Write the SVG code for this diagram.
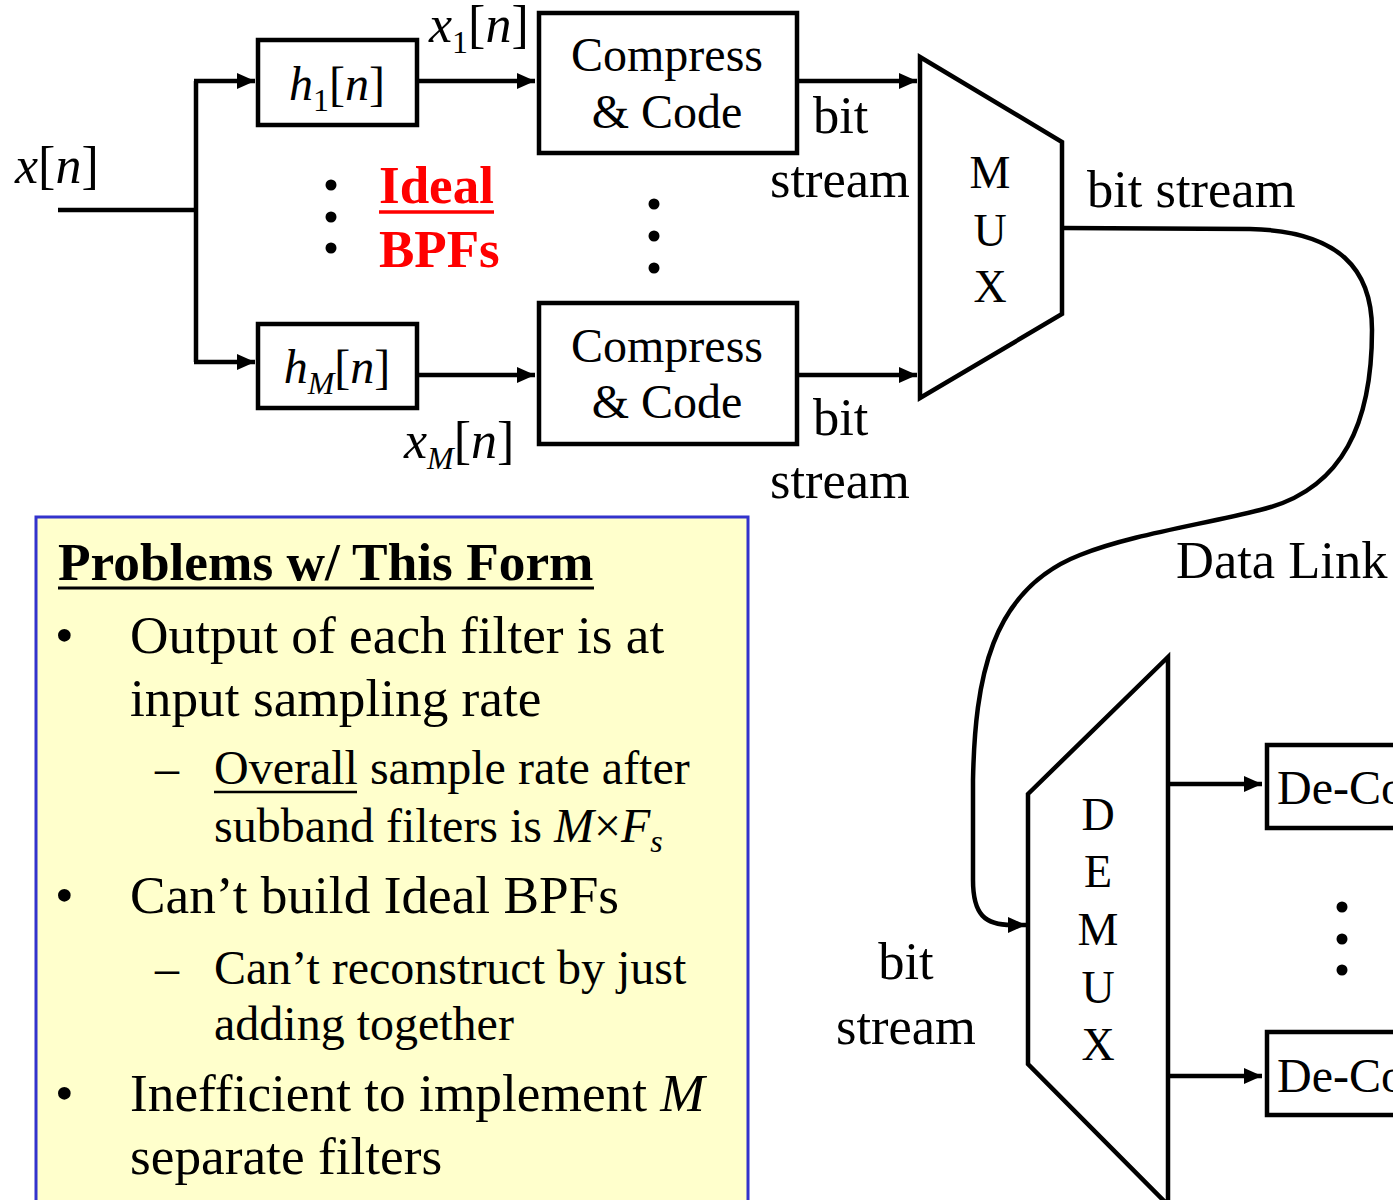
<svg xmlns="http://www.w3.org/2000/svg" width="1393" height="1200" viewBox="0 0 1393 1200">
<style>
text{font-family:"Liberation Serif","Times New Roman",serif;fill:#000}
.i{font-style:italic}
.box{fill:none;stroke:#000;stroke-width:4.5}
.ln{fill:none;stroke:#000;stroke-width:4.5}
.lbl{font-size:52.5px}
.cc{font-size:48px;text-anchor:middle}
.mx{font-size:46px;text-anchor:middle}
.sym{font-size:48px}
.xs{font-size:52px}
.sub{font-size:32px}
.body{font-size:53.3px}
.sb{font-size:48px}
</style>
<defs>
<marker id="ah" markerUnits="userSpaceOnUse" markerWidth="20" markerHeight="18" refX="18" refY="8" orient="auto">
<path d="M0,0 L18,8 L0,16 Z" fill="#000"/>
</marker>
</defs>
<rect width="1393" height="1200" fill="#fff"/>

<g id="connectors">
<path class="ln" d="M58,210 L196,210"/>
<path class="ln" d="M196,81 L196,362"/>
<path class="ln" d="M194,81 L255,81" marker-end="url(#ah)"/>
<path class="ln" d="M194,362 L255,362" marker-end="url(#ah)"/>
<path class="ln" d="M418,81 L535,81" marker-end="url(#ah)"/>
<path class="ln" d="M418,375 L535,375" marker-end="url(#ah)"/>
<path class="ln" d="M798,81 L917,81" marker-end="url(#ah)"/>
<path class="ln" d="M798,375 L917,375" marker-end="url(#ah)"/>
<path class="ln" d="M1062,228 L1250,229 C1340,231 1372,270 1372,330 C1372,420 1345,490 1260,510 C1200,525 1130,535 1080,555 C990,590 975,680 973,780 L973,880 C973,915 985,925 1012,925 L1026,925" marker-end="url(#ah)"/>
<path class="ln" d="M1168,784 L1262,784" marker-end="url(#ah)"/>
<path class="ln" d="M1168,1076 L1262,1076" marker-end="url(#ah)"/>
</g>

<g id="input-label">
<text class="xs" x="15" y="183"><tspan class="i">x</tspan>[<tspan class="i">n</tspan>]</text>
</g>

<g id="h1">
<rect class="box" x="258" y="40" width="159" height="85"/>
<text class="sym" x="337" y="100" text-anchor="middle"><tspan class="i">h</tspan><tspan class="sub" dy="11">1</tspan><tspan dy="-11">[</tspan><tspan class="i">n</tspan>]</text>
</g>

<g id="hM">
<rect class="box" x="258" y="324" width="159" height="84"/>
<text class="sym" x="337" y="383" text-anchor="middle"><tspan class="i">h</tspan><tspan class="sub i" dy="11">M</tspan><tspan dy="-11">[</tspan><tspan class="i">n</tspan>]</text>
</g>

<g id="x1-label">
<text class="xs" x="429" y="42"><tspan class="i">x</tspan><tspan class="sub" dy="11">1</tspan><tspan dy="-11">[</tspan><tspan class="i">n</tspan>]</text>
</g>
<g id="xM-label">
<text class="xs" x="404" y="458"><tspan class="i">x</tspan><tspan class="sub i" dy="11">M</tspan><tspan dy="-11">[</tspan><tspan class="i">n</tspan>]</text>
</g>

<g id="dots-left">
<circle cx="331" cy="185" r="5.5"/>
<circle cx="331" cy="217" r="5.5"/>
<circle cx="331" cy="248" r="5.5"/>
</g>
<g id="ideal-label">
<text x="379" y="203" font-size="53" font-weight="bold" style="fill:#ff0000">Ideal</text>
<line x1="379" y1="212" x2="494" y2="212" stroke="#ff0000" stroke-width="3.5"/>
<text x="379" y="267" font-size="53" font-weight="bold" style="fill:#ff0000">BPFs</text>
</g>

<g id="cc1">
<rect class="box" x="539" y="13" width="258" height="140"/>
<text class="cc" x="667" y="71">Compress</text>
<text class="cc" x="667" y="128">&amp; Code</text>
</g>
<g id="cc2">
<rect class="box" x="539" y="303" width="258" height="141"/>
<text class="cc" x="667" y="362">Compress</text>
<text class="cc" x="667" y="418">&amp; Code</text>
</g>
<g id="dots-mid">
<circle cx="654" cy="204" r="5.5"/>
<circle cx="654" cy="236" r="5.5"/>
<circle cx="654" cy="268" r="5.5"/>
</g>
<g id="bitstream-labels">
<text class="lbl" x="813" y="133">bit</text>
<text class="lbl" x="770" y="197">stream</text>
<text class="lbl" x="813" y="435">bit</text>
<text class="lbl" x="770" y="498">stream</text>
<text class="lbl" x="1087" y="207">bit stream</text>
<text class="lbl" x="1176" y="578">Data Link</text>
<text class="lbl" x="906" y="979" text-anchor="middle">bit</text>
<text class="lbl" x="906" y="1044" text-anchor="middle">stream</text>
</g>

<g id="mux">
<polygon class="box" points="920,57 1062,142 1062,314 920,398"/>
<text class="mx" x="990" y="188">M</text>
<text class="mx" x="990" y="246">U</text>
<text class="mx" x="990" y="302">X</text>
</g>

<g id="demux">
<polygon class="box" points="1028,794 1168,657 1168,1205 1028,1064"/>
<text class="mx" x="1098" y="830">D</text>
<text class="mx" x="1098" y="887">E</text>
<text class="mx" x="1098" y="945">M</text>
<text class="mx" x="1098" y="1003">U</text>
<text class="mx" x="1098" y="1060">X</text>
</g>

<g id="decode1">
<rect class="box" x="1267" y="745" width="200" height="83"/>
<text class="cc" x="1277" y="804" style="text-anchor:start">De-Code</text>
</g>
<g id="decode2">
<rect class="box" x="1267" y="1032" width="200" height="83"/>
<text class="cc" x="1277" y="1092" style="text-anchor:start">De-Code</text>
</g>
<g id="dots-right">
<circle cx="1342" cy="907" r="5.5"/>
<circle cx="1342" cy="939" r="5.5"/>
<circle cx="1342" cy="970" r="5.5"/>
</g>

<g id="problems">
<rect x="36" y="517" width="712" height="700" fill="#ffffcc" stroke="#3333cc" stroke-width="3"/>
<text class="body" x="58" y="580" font-weight="bold">Problems w/ This Form</text>
<line x1="58" y1="588" x2="594" y2="588" stroke="#000" stroke-width="3"/>
<text class="body" x="55" y="653">•</text>
<text class="body" x="130" y="653">Output of each filter is at</text>
<text class="body" x="130" y="716">input sampling rate</text>
<text class="sb" x="155" y="784">–</text>
<text class="sb" x="214" y="784">Overall sample rate after</text>
<line x1="214" y1="792" x2="357" y2="792" stroke="#000" stroke-width="2.5"/>
<text class="sb" x="214" y="842">subband filters is <tspan class="i">M</tspan>×<tspan class="i">F</tspan><tspan class="i sub" dy="10">s</tspan></text>
<text class="body" x="55" y="913">•</text>
<text class="body" x="130" y="913">Can’t build Ideal BPFs</text>
<text class="sb" x="155" y="984">–</text>
<text class="sb" x="214" y="984">Can’t reconstruct by just</text>
<text class="sb" x="214" y="1040">adding together</text>
<text class="body" x="55" y="1111">•</text>
<text class="body" x="130" y="1111">Inefficient to implement <tspan class="i">M</tspan></text>
<text class="body" x="130" y="1174">separate filters</text>
</g>
</svg>
